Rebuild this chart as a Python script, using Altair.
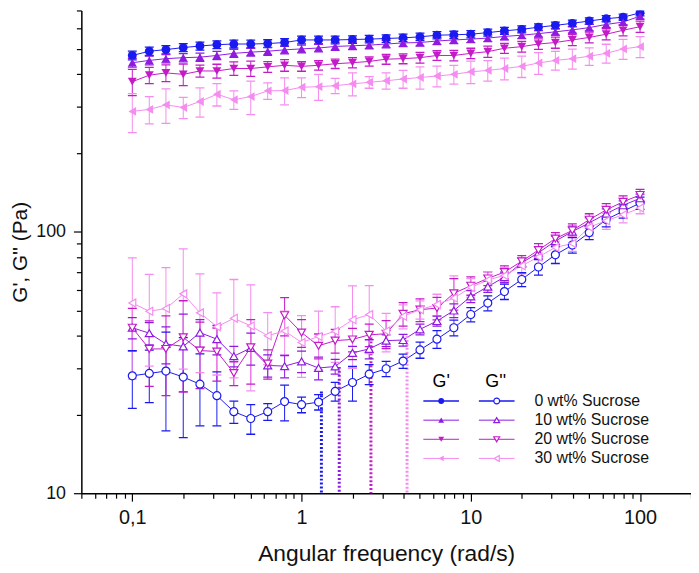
import altair as alt
import pandas as pd

# ---------------- data ----------------
freq = [0.1, 0.126, 0.158, 0.2, 0.251, 0.316, 0.398, 0.501, 0.631, 0.794,
        1.0, 1.26, 1.58, 2.0, 2.51, 3.16, 3.98, 5.01, 6.31, 7.94,
        10.0, 12.6, 15.8, 20.0, 25.1, 31.6, 39.8, 50.1, 63.1, 79.4, 100.0]

series = ["0 wt% Sucrose", "10 wt% Sucrose", "20 wt% Sucrose", "30 wt% Sucrose"]
colors = ["#1a1af0", "#8f1ae0", "#c41ac8", "#f58cf0"]
shapes = ["circle", "triangle-up", "triangle-down", "triangle-left"]

# storage modulus G' (Pa)
gp_0 = [471, 489, 496, 505, 512, 518, 521, 521, 523, 528, 540, 540, 540, 542, 544, 547,
        550, 555, 563, 565, 568, 576, 585, 593, 604, 614, 625, 638, 651, 660, 685]
gp_10 = [442, 451, 458, 462, 464, 471, 480, 485, 489, 495, 499, 503, 510, 513, 516, 521,
         526, 528, 535, 540, 544, 549, 557, 563, 571, 580, 590, 602, 619, 632, 666]
gp_20 = [374, 396, 404, 399, 411, 411, 420, 420, 426, 432, 428, 432, 438, 442, 447, 456,
         458, 462, 471, 471, 480, 487, 502, 509, 521, 528, 540, 552, 568, 588, 607]
gp_30 = [288, 293, 305, 298, 314, 335, 319, 328, 345, 346, 356, 358, 361, 367, 372, 377,
         383, 388, 393, 399, 408, 413, 420, 428, 441, 451, 458, 468, 480, 499, 509]

gp_err_0 = [18] * 31
gp_err_10 = [17] * 31
gp_err_20 = [43, 28, 30, 38, 22, 25, 25, 28, 20, 22, 18, 18, 18, 20, 18, 20,
             20, 22, 20, 22, 22, 24, 22, 24, 24, 26, 26, 26, 28, 28, 30]
gp_err_30 = [49, 35, 46, 28, 40, 33, 26, 48, 25, 41, 31, 41, 24, 37, 19, 27,
             30, 38, 36, 33, 40, 37, 40, 40, 42, 37, 40, 36, 40, 44, 47]

# loss modulus G'' (Pa)
gpp_0 = [28.1, 28.7, 29.3, 27.8, 26.1, 23.6, 20.5, 19.3, 20.5, 22.4, 21.8, 22.3, 24.5, 26.5,
         28.5, 29.9, 32.0, 35.3, 38.8, 42.9, 48.2, 53.3, 59.0, 65.6, 73.2, 81.5, 88.8, 99.1,
         111.2, 119.6, 128.5]
gpp_10 = [42.9, 40.9, 37.2, 36.4, 41.1, 38.8, 33.4, 35.9, 30.8, 30.6, 31.9, 30.1, 30.5, 34.4,
          35.6, 38.3, 38.5, 42.3, 45.5, 49.9, 56.5, 61.6, 67, 76, 83, 92, 100, 108, 117, 126, 134]
gpp_20 = [42.9, 35.6, 35.6, 39.4, 35.1, 34.8, 28.8, 36.1, 31.3, 47.9, 41.1, 36.6, 38.3, 38.7,
          40.3, 40.7, 48.5, 50.3, 51.0, 58.1, 62.1, 66.2, 70, 77, 85, 94, 101, 111, 121, 130, 138]
gpp_30 = [53.3, 49.6, 50.8, 57.8, 48.9, 43.3, 46.6, 43.6, 40.0, 41.7, 37.7, 39.7, 41.6, 46.0,
          48.2, 41.7, 47.5, 50.3, 52.6, 55.7, 61.1, 65.3, 68, 74, 80, 87, 90, 104, 110, 116, 123]

gpp_err_0 = [7, 6.5, 12, 11.5, 8, 5.5, 2, 2.5, 1.5, 3.5, 1.5, 1.5, 2, 4, 2.5, 2, 2, 2.5,
             3, 3, 3, 3.5, 4, 4, 5, 6, 6, 6, 7, 7, 7]
gpp_err_10 = [4, 4, 6, 12, 5, 5, 3, 5, 3, 3, 3, 3, 2, 2, 3, 2, 2, 2, 2, 3, 3, 3, 3, 3,
              4, 4, 5, 5, 5, 5, 5]
gpp_err_20 = [8, 10, 12, 15, 10, 8, 3, 10, 4, 8, 5, 4, 4, 4, 4, 5, 5, 5, 5, 8, 5, 4, 4, 4,
              5, 5, 6, 6, 7, 7, 7]
gpp_err_30 = [26, 19, 22, 28, 20, 15, 19, 19, 9, 8, 10, 10, 10, 16, 14, 7, 5, 4, 5, 12,
              5, 5, 5, 5, 7, 5, 6, 8, 8, 8, 6]

# crossover-type markers (dotted verticals)
cross_freq = [1.31, 1.67, 2.57, 4.2]
cross_top = [24.5, 30.4, 39.4, 39.9]

x_ticks = [0.05, 0.06, 0.07, 0.08, 0.09, 0.1, 0.2, 0.3, 0.4, 0.5, 0.6, 0.7, 0.8, 0.9,
           1, 2, 3, 4, 5, 6, 7, 8, 9, 10, 20, 30, 40, 50, 60, 70, 80, 90, 100, 200]
y_ticks = [10, 20, 30, 40, 50, 60, 70, 80, 90, 100, 200, 300, 400, 500, 600, 700]

# ---------------- table ----------------
gp = [gp_0, gp_10, gp_20, gp_30]
gp_err = [gp_err_0, gp_err_10, gp_err_20, gp_err_30]
gpp = [gpp_0, gpp_10, gpp_20, gpp_30]
gpp_err = [gpp_err_0, gpp_err_10, gpp_err_20, gpp_err_30]

rows = []
for si, s in enumerate(series):
    for kind, vals, errs in (("G'", gp[si], gp_err[si]), ("G''", gpp[si], gpp_err[si])):
        for f, v, e in zip(freq, vals, errs):
            rows.append({"freq": f, "value": v, "lo": v - e, "hi": v + e,
                         "series": s, "kind": kind, "key": s + kind})
df = pd.DataFrame(rows)
cross_df = pd.DataFrame({"series": series, "freq": cross_freq, "top": cross_top})

# ---------------- scales / axes ----------------
major_x = "datum.value == 0.1 || datum.value == 1 || datum.value == 10 || datum.value == 100"
x_axis = alt.Axis(
    values=x_ticks,
    labelExpr="datum.value == 0.1 ? '0,1' : ((datum.value == 1 || datum.value == 10 || datum.value == 100) ? format(datum.value, 'd') : '')",
    labelOverlap=False, labelBound=False, grid=False,
    tickSize={"condition": {"test": major_x, "value": 8}, "value": 5},
    title="Angular frequency (rad/s)", titleFontSize=23, titleFontWeight="normal",
    labelFontSize=20, labelPadding=7, titlePadding=15,
)
y_axis = alt.Axis(
    values=y_ticks,
    labelExpr="(datum.value == 10 || datum.value == 100) ? format(datum.value, 'd') : ''",
    labelOverlap=False, labelBound=False, grid=False,
    tickSize={"condition": {"test": "datum.value == 10 || datum.value == 100", "value": 8}, "value": 5},
    title="G', G'' (Pa)", titleFontSize=21, titleFontWeight="normal",
    labelFontSize=18, labelPadding=8, titlePadding=5,
)
xs = alt.Scale(type="log", domain=[0.05, 200])
ys = alt.Scale(type="log", domain=[10, 700])
col = alt.Color("series:N", scale=alt.Scale(domain=series, range=colors), legend=None)
shp = alt.Shape("series:N", scale=alt.Scale(domain=series, range=shapes), legend=None)


def X(field):
    return alt.X(field, scale=xs, axis=x_axis)


def Y(field):
    return alt.Y(field, scale=ys, axis=y_axis)


base = alt.Chart(df)

lines = base.mark_line(strokeWidth=1, clip=True).encode(
    x=X("freq:Q"), y=Y("value:Q"), color=col, detail="key:N",
)
bars = base.mark_rule(strokeWidth=1, clip=True).encode(
    x=X("freq:Q"), y=Y("lo:Q"), y2="hi:Q", color=col,
)
cap_lo = base.mark_tick(orient="horizontal", size=9, thickness=1.3, opacity=1, clip=True).encode(
    x=X("freq:Q"), y=Y("lo:Q"), color=col,
)
cap_hi = base.mark_tick(orient="horizontal", size=9, thickness=1.3, opacity=1, clip=True).encode(
    x=X("freq:Q"), y=Y("hi:Q"), color=col,
)
pts_gp = base.transform_filter("datum.kind == \"G'\"").mark_point(
    filled=True, size=80, opacity=1, clip=True).encode(
    x=X("freq:Q"), y=Y("value:Q"), color=col, shape=shp,
)
pts_gpp = base.transform_filter("datum.kind == \"G''\"").mark_point(
    filled=False, fill="white", size=65, strokeWidth=1.2, opacity=1, clip=True).encode(
    x=X("freq:Q"), y=Y("value:Q"), color=col, shape=shp,
)
cross = alt.Chart(cross_df).mark_rule(strokeWidth=3, strokeDash=[2, 2]).encode(
    x=X("freq:Q"), y=Y("top:Q"), y2=alt.datum(10), color=col,
)

# ---------------- in-plot legend ----------------
one = pd.DataFrame({"a": [0]})
leg = []
leg.append(alt.Chart(one).mark_text(fontSize=18, font="Liberation Sans").encode(
    x=alt.value(363), y=alt.value(375), text=alt.value("G'")))
leg.append(alt.Chart(one).mark_text(fontSize=18, font="Liberation Sans").encode(
    x=alt.value(418), y=alt.value(375), text=alt.value("G''")))
for i, (s, c, sh) in enumerate(zip(series, colors, shapes)):
    yy = 394 + i * 19.3
    leg.append(alt.Chart(one).mark_rule(color=c, strokeWidth=1.5 if i == 0 else 1).encode(
        x=alt.value(345), x2=alt.value(381), y=alt.value(yy)))
    leg.append(alt.Chart(one).mark_rule(color=c, strokeWidth=1.5 if i == 0 else 1).encode(
        x=alt.value(401), x2=alt.value(437), y=alt.value(yy)))
    leg.append(alt.Chart(one).mark_point(color=c, filled=True, shape=sh, size=35, opacity=1).encode(
        x=alt.value(363), y=alt.value(yy)))
    leg.append(alt.Chart(one).mark_point(color=c, filled=False, fill="white", shape=sh, size=35,
                                         strokeWidth=1.2, opacity=1).encode(
        x=alt.value(419), y=alt.value(yy)))
    leg.append(alt.Chart(one).mark_text(align="left", baseline="middle", fontSize=16,
                                        font="Liberation Sans", color="#111").encode(
        x=alt.value(457), y=alt.value(yy), text=alt.value(s)))

chart = alt.layer(lines, cross, bars, cap_lo, cap_hi, pts_gpp, pts_gp, *leg).properties(
    width=615, height=487,
    autosize=alt.AutoSizeParams(type="none"),
    padding={"left": 74, "top": 0, "right": 0, "bottom": 78},
).configure_view(stroke=None).configure_axis(
    domainColor="#000", domainWidth=1.5, tickColor="#000", tickWidth=1.2,
    labelColor="#111", titleColor="#111", labelFont="Liberation Sans", titleFont="Liberation Sans",
)

chart.save("out.html", embed_options={"renderer": "svg", "actions": False})
